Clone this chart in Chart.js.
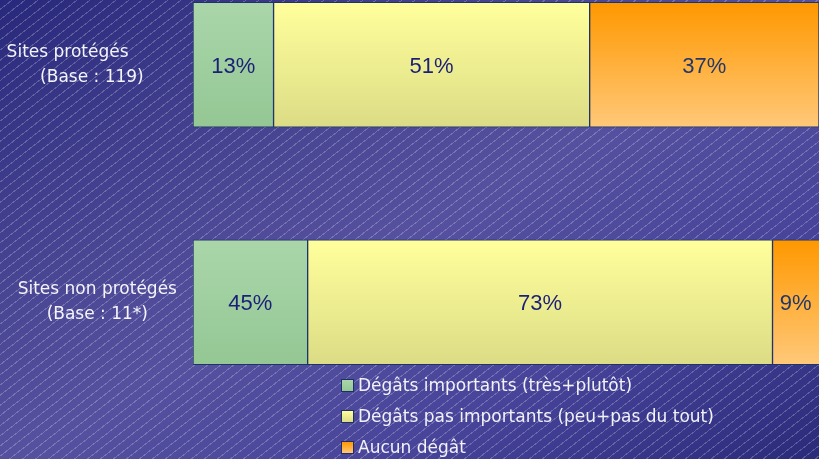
<!DOCTYPE html>
<html>
<head>
<meta charset="utf-8">
<script src="https://cdn.jsdelivr.net/npm/chart.js@4"></script>
<style>
    html, body { margin: 0; padding: 0; width: 819px; height: 459px; overflow: hidden; }
    body {
        position: relative;
        background:
            repeating-linear-gradient(142deg, rgba(255,255,255,0) 0px, rgba(255,255,255,0) 7px, rgba(255,255,255,0.22) 7px, rgba(255,255,255,0.22) 8px),
            linear-gradient(to bottom right, #28287c 0%, #43418f 26%, #56519f 50%, #47449a 74%, #2a2a7a 100%);
        font-family: "DejaVu Sans", sans-serif;
    }
    #wrap { position: absolute; left: 0; top: -54px; width: 819px; height: 475px; }
    #legend { position: absolute; left: 341px; top: 374px; color: #f2f2f8; font-size: 17px; }
    #legend div { height: 31px; line-height: 22px; white-space: nowrap; }
    #legend span.box { display: inline-block; width: 11px; height: 11px; border: 1px solid #1f2f66; margin-right: 4px; vertical-align: -1px; }
</style>
</head>
<body>
<div id="wrap"><canvas id="graf"></canvas></div>
<div id="legend"></div>
<script>
// categories (two lines each)
var categories = [["Sites protégés", "(Base : 119)"], ["Sites non protégés", "(Base : 11*)"]];
var seriesNames = ["Dégâts importants (très+plutôt)", "Dégâts pas importants (peu+pas du tout)", "Aucun dégât"];

// bar lengths as drawn in the picture
var importants = [13, 18.5];
var pasImportants = [51, 75];
var aucun = [37, 9];

// printed labels
var txtImportants = ["13%", "45%"];
var txtPasImportants = ["51%", "73%"];
var txtAucun = ["37%", "9%"];

var couleurs = [
    { top: "#aad6aa", bottom: "#94c794", box: "#9fd09f", text: "#1b1f78" },
    { top: "#ffff9c", bottom: "#dcdc86", box: "#f4f495", text: "#1b1f78" },
    { top: "#ff9800", bottom: "#ffc878", box: "#ffae45", text: "#22386a" }
];

function degrade(idx) {
    return function (ctx) {
        var chart = ctx.chart;
        var y = chart.scales.y;
        if (!y || ctx.dataIndex === undefined) return couleurs[idx].box;
        var c = y.getPixelForValue(ctx.dataIndex);
        if (!isFinite(c)) return couleurs[idx].box;
        var g = chart.ctx.createLinearGradient(0, c - 62, 0, c + 62);
        g.addColorStop(0, couleurs[idx].top);
        g.addColorStop(1, couleurs[idx].bottom);
        return g;
    };
}

var textes = [txtImportants, txtPasImportants, txtAucun];

var etiquettes = {
    id: 'etiquettes',
    afterDatasetsDraw: function (chart) {
        var ctx = chart.ctx;
        ctx.save();
        ctx.font = '22px "Liberation Sans", Arial, sans-serif';
        ctx.textAlign = 'center';
        ctx.textBaseline = 'middle';
        chart.data.datasets.forEach(function (ds, i) {
            chart.getDatasetMeta(i).data.forEach(function (bar, j) {
                var left = Math.min(bar.x, bar.base);
                var right = Math.min(Math.max(bar.x, bar.base), chart.chartArea.right);
                ctx.fillStyle = couleurs[i].text;
                ctx.fillText(textes[i][j], (left + right) / 2, bar.y + 2);
            });
        });
        ctx.restore();
    }
};

var valeurs = [importants, pasImportants, aucun];

// the first label sits a bit to the left in the original
function decale(lines, idx) {
    if (idx !== 0) return lines;
    return [lines[0] + '\u00a0'.repeat(11), lines[1] + '\u00a0\u00a0'];
}

var graf = new Chart(document.getElementById('graf'), {
    type: 'bar',
    data: {
        labels: categories,
        datasets: valeurs.map(function (v, i) {
            return {
                label: seriesNames[i],
                data: v,
                backgroundColor: degrade(i),
                borderColor: '#1f3466',
                borderWidth: 1,
                borderSkipped: false,
                barThickness: 125
            };
        })
    },
    options: {
        indexAxis: 'y',
        responsive: true,
        maintainAspectRatio: false,
        animation: false,
        layout: { padding: 0, autoPadding: false },
        plugins: {
            legend: { display: false },
            tooltip: { enabled: false }
        },
        scales: {
            x: {
                stacked: true,
                display: false,
                min: 0,
                max: 101
            },
            y: {
                stacked: true,
                grid: { display: false, drawTicks: false },
                border: { display: false },
                ticks: {
                    color: '#f4f4fa',
                    font: { family: '"DejaVu Sans", sans-serif', size: 17, lineHeight: 1.48 },
                    crossAlign: 'center',
                    padding: 5,
                    callback: function (val, idx) { return decale(this.getLabelForValue(val), idx); }
                },
                afterFit: function (scale) {
                    scale.width = 193;
                    scale.paddingTop = 0;
                    scale.paddingBottom = 0;
                }
            }
        }
    },
    plugins: [etiquettes]
});

// legend in html
var leg = document.getElementById('legend');
seriesNames.forEach(function (n, i) {
    var d = document.createElement('div');
    var b = document.createElement('span');
    b.className = 'box';
    b.style.background = 'linear-gradient(' + couleurs[i].top + ',' + couleurs[i].bottom + ')';
    d.appendChild(b);
    d.appendChild(document.createTextNode(n));
    leg.appendChild(d);
});
</script>
</body>
</html>
